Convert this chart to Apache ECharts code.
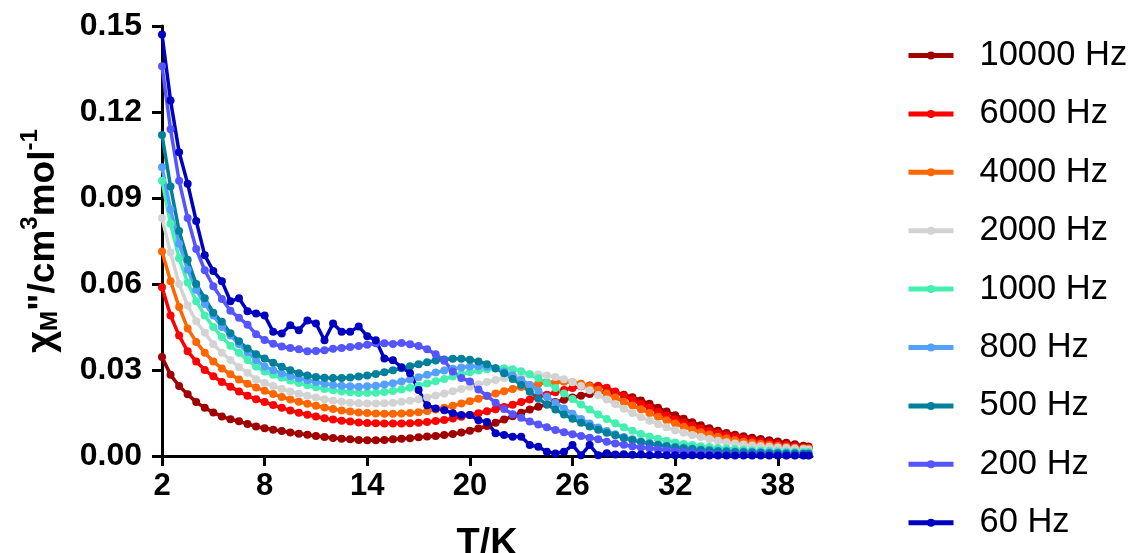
<!DOCTYPE html>
<html><head><meta charset="utf-8">
<script src="https://cdn.jsdelivr.net/npm/echarts@6/dist/echarts.min.js"></script>
<style>html,body{margin:0;padding:0;background:#fff}#c{width:1132px;height:553px}</style>
</head><body><div id="c"></div>
<script>
const temps = [2,2.5,3,3.5,4,4.5,5,5.5,6,6.5,7,7.5,8,8.5,9,9.5,10,10.5,11,11.5,12,12.5,13,13.5,14,14.5,15,15.5,16,16.5,17,17.5,18,18.5,19,19.5,20,20.5,21,21.5,22,22.5,23,23.5,24,24.5,25,25.5,26,26.5,27,27.5,28,28.5,29,29.5,30,30.5,31,31.5,32,32.5,33,33.5,34,34.5,35,35.5,36,36.5,37,37.5,38,38.5,39,39.5,39.8];

const seriesNames = ['10000 Hz','6000 Hz','4000 Hz','2000 Hz','1000 Hz','800 Hz','500 Hz','200 Hz','60 Hz'];
const seriesColors = ['#A00000','#FF0000','#FF6600','#D3D3D3','#44F0B0','#55A0FF','#00809A','#5555FF','#0000C0'];

const hz10000 = [0.0345,0.0283,0.0244,0.0215,0.0188,0.0168,0.0152,0.0138,0.0128,0.0121,
0.0112,0.0103,0.0097,0.0092,0.0087,0.0082,0.0078,0.0074,0.0070,0.0066,
0.0063,0.0060,0.0058,0.0056,0.0055,0.0055,0.0056,0.0058,0.0060,0.0062,
0.0065,0.0068,0.0070,0.0073,0.0077,0.0082,0.0088,0.0096,0.0105,0.0116,
0.0127,0.0139,0.0151,0.0162,0.0172,0.0180,0.0188,0.0196,0.0204,0.0210,
0.0216,0.0221,0.0223,0.0221,0.0214,0.0205,0.0194,0.0182,0.0168,0.0155,
0.0142,0.0130,0.0118,0.0107,0.0097,0.0088,0.0080,0.0074,0.0069,0.0064,
0.0059,0.0055,0.0051,0.0046,0.0041,0.0036,0.0033];

const hz6000 = [0.0589,0.0490,0.0420,0.0365,0.0330,0.0300,0.0278,0.0258,0.0242,0.0225,
0.0210,0.0198,0.0188,0.0178,0.0168,0.0159,0.0151,0.0144,0.0138,0.0132,
0.0127,0.0123,0.0120,0.0117,0.0115,0.0114,0.0113,0.0113,0.0113,0.0114,
0.0116,0.0119,0.0122,0.0126,0.0131,0.0137,0.0143,0.0149,0.0156,0.0163,
0.0171,0.0179,0.0188,0.0197,0.0206,0.0214,0.0222,0.0230,0.0237,0.0243,
0.0246,0.0245,0.0238,0.0225,0.0210,0.0196,0.0182,0.0168,0.0154,0.0140,
0.0128,0.0117,0.0106,0.0096,0.0087,0.0079,0.0072,0.0066,0.0060,0.0055,
0.0050,0.0046,0.0042,0.0038,0.0034,0.0030,0.0028];

const hz4000 = [0.0713,0.0610,0.0520,0.0445,0.0398,0.0360,0.0330,0.0305,0.0285,0.0267,
0.0252,0.0239,0.0228,0.0216,0.0206,0.0197,0.0189,0.0182,0.0175,0.0169,
0.0164,0.0159,0.0155,0.0152,0.0150,0.0148,0.0147,0.0147,0.0148,0.0150,
0.0153,0.0157,0.0162,0.0168,0.0175,0.0183,0.0191,0.0200,0.0209,0.0218,
0.0226,0.0234,0.0241,0.0247,0.0252,0.0256,0.0258,0.0259,0.0257,0.0252,
0.0243,0.0231,0.0218,0.0204,0.0189,0.0176,0.0163,0.0150,0.0137,0.0125,
0.0113,0.0102,0.0092,0.0083,0.0075,0.0067,0.0061,0.0055,0.0050,0.0046,
0.0042,0.0038,0.0035,0.0032,0.0029,0.0027,0.0026];

const hz2000 = [0.0830,0.0710,0.0600,0.0525,0.0470,0.0430,0.0390,0.0360,0.0335,0.0310,
0.0290,0.0268,0.0255,0.0244,0.0234,0.0225,0.0217,0.0210,0.0204,0.0198,
0.0193,0.0189,0.0186,0.0184,0.0183,0.0183,0.0184,0.0186,0.0189,0.0193,
0.0198,0.0204,0.0211,0.0218,0.0226,0.0234,0.0242,0.0250,0.0258,0.0265,
0.0271,0.0277,0.0281,0.0284,0.0284,0.0281,0.0276,0.0268,0.0257,0.0244,
0.0229,0.0213,0.0197,0.0181,0.0165,0.0150,0.0136,0.0123,0.0111,0.0100,
0.0090,0.0081,0.0073,0.0066,0.0059,0.0053,0.0048,0.0044,0.0040,0.0037,
0.0034,0.0032,0.0030,0.0028,0.0026,0.0024,0.0023];

const hz1000 = [0.0960,0.0810,0.0690,0.0605,0.0540,0.0490,0.0450,0.0415,0.0385,0.0360,
0.0335,0.0312,0.0295,0.0283,0.0273,0.0263,0.0255,0.0247,0.0240,0.0234,
0.0229,0.0225,0.0222,0.0220,0.0220,0.0221,0.0223,0.0227,0.0232,0.0238,
0.0245,0.0253,0.0261,0.0269,0.0277,0.0285,0.0292,0.0298,0.0303,0.0306,
0.0306,0.0303,0.0296,0.0285,0.0271,0.0255,0.0237,0.0218,0.0199,0.0180,
0.0162,0.0145,0.0129,0.0114,0.0100,0.0088,0.0077,0.0068,0.0060,0.0053,
0.0047,0.0042,0.0038,0.0034,0.0031,0.0028,0.0026,0.0024,0.0022,0.0020,
0.0019,0.0018,0.0017,0.0016,0.0015,0.0014,0.0014];

const hz800 = [0.1007,0.0860,0.0740,0.0650,0.0580,0.0530,0.0490,0.0450,0.0420,0.0390,
0.0362,0.0335,0.0312,0.0299,0.0288,0.0279,0.0271,0.0264,0.0258,0.0252,
0.0248,0.0245,0.0243,0.0242,0.0243,0.0245,0.0249,0.0254,0.0260,0.0267,
0.0275,0.0283,0.0291,0.0298,0.0304,0.0309,0.0312,0.0313,0.0311,0.0305,
0.0295,0.0282,0.0266,0.0248,0.0228,0.0207,0.0186,0.0166,0.0147,0.0129,
0.0113,0.0099,0.0087,0.0076,0.0066,0.0058,0.0051,0.0045,0.0040,0.0036,
0.0032,0.0029,0.0026,0.0023,0.0021,0.0019,0.0018,0.0017,0.0016,0.0015,
0.0014,0.0013,0.0012,0.0011,0.0011,0.0010,0.0010];

const hz500 = [0.1120,0.0940,0.0785,0.0685,0.0600,0.0550,0.0500,0.0468,0.0428,0.0400,
0.0375,0.0355,0.0340,0.0325,0.0311,0.0299,0.0289,0.0281,0.0276,0.0273,
0.0272,0.0272,0.0274,0.0277,0.0281,0.0286,0.0292,0.0299,0.0306,0.0313,
0.0320,0.0327,0.0333,0.0337,0.0339,0.0339,0.0336,0.0330,0.0320,0.0306,
0.0289,0.0269,0.0248,0.0224,0.0200,0.0180,0.0162,0.0145,0.0130,0.0116,
0.0103,0.0092,0.0081,0.0072,0.0063,0.0056,0.0049,0.0043,0.0038,0.0034,
0.0030,0.0027,0.0024,0.0021,0.0019,0.0017,0.0016,0.0014,0.0013,0.0012,
0.0011,0.0010,0.0010,0.0009,0.0009,0.0008,0.0008];

const hz200 = [0.1360,0.1140,0.0960,0.0830,0.0722,0.0648,0.0592,0.0548,0.0507,0.0482,
0.0458,0.0425,0.0405,0.0392,0.0382,0.0377,0.0372,0.0365,0.0366,0.0369,
0.0374,0.0377,0.0380,0.0384,0.0388,0.0393,0.0393,0.0391,0.0394,0.0390,
0.0384,0.0372,0.0355,0.0332,0.0295,0.0272,0.0260,0.0232,0.0210,0.0186,
0.0164,0.0146,0.0133,0.0120,0.0110,0.0100,0.0091,0.0083,0.0076,0.0070,
0.0064,0.0058,0.0050,0.0044,0.0039,0.0034,0.0030,0.0027,0.0023,0.0020,
0.0017,0.0015,0.0012,0.0010,0.0008,0.0006,0.0005,0.0005,0.0004,0.0004,
0.0004,0.0004,0.0003,0.0003,0.0003,0.0003,0.0003];

const hz60 = [0.1470,0.1240,0.1060,0.0950,0.0820,0.0700,0.0645,0.0610,0.0540,0.0550,
0.0505,0.0497,0.0490,0.0433,0.0427,0.0456,0.0439,0.0473,0.0462,0.0404,
0.0462,0.0433,0.0433,0.0452,0.0418,0.0404,0.0340,0.0334,0.0310,0.0289,
0.0230,0.0177,0.0166,0.0160,0.0149,0.0143,0.0143,0.0125,0.0119,0.0079,
0.0073,0.0067,0.0067,0.0038,0.0032,0.0015,0.0009,0.0015,0.0038,0.0003,
0.0038,0.0003,0.0010,0.0005,0.0006,0.0004,0.0005,0.0003,0.0004,0.0003,
0.0003,0.0002,0.0003,0.0002,0.0002,0.0002,0.0002,0.0002,0.0002,0.0002,
0.0002,0.0002,0.0002,0.0002,0.0002,0.0002,0.0002];

const seriesValues = [hz10000,hz6000,hz4000,hz2000,hz1000,hz800,hz500,hz200,hz60];
const xTickValues = [2,8,14,20,26,32,38];

const FONT = 'Liberation Sans, Arial, sans-serif';
const chart = echarts.init(document.getElementById('c'), null, {renderer:'canvas'});

const series = seriesNames.map((name, k) => ({
  name: name,
  type: 'line',
  data: temps.map((t, i) => [t, seriesValues[k][i]]),
  symbol: 'circle',
  symbolSize: 8,
  showSymbol: true,
  clip: false,
  lineStyle: {width: 3.5, color: seriesColors[k]},
  itemStyle: {color: seriesColors[k]},
  emphasis: {disabled: true},
  z: 2
}));

chart.setOption({
  animation: false,
  backgroundColor: '#fff',
  grid: {left: 162, right: 320, top: 26, bottom: 97, containLabel: false, outerBoundsMode: 'none'},
  legend: {
    orient: 'vertical', left: 901, top: 33,
    itemWidth: 45, itemHeight: 10, itemGap: 23.4,
    data: seriesNames,
    lineStyle: {width: 5},
    textStyle: {fontFamily: FONT, fontSize: 34.5, lineHeight: 34, color: '#000', padding: [0,0,0,21]}
  },
  xAxis: {
    type: 'value', min: 2, max: 40,
    name: 'T/K', nameLocation: 'middle', nameGap: 70,
    nameTextStyle: {fontFamily: FONT, fontSize: 38, fontWeight: 'bold', color: '#000'},
    axisLine: {show: true, onZero: false, lineStyle: {color: '#000', width: 3}},
    axisTick: {show: true, length: 10, lineStyle: {color: '#000', width: 3}, customValues: xTickValues},
    axisLabel: {fontFamily: FONT, fontSize: 31, fontWeight: 'bold', color: '#000', margin: 15, customValues: xTickValues},
    splitLine: {show: false}
  },
  yAxis: {
    type: 'value', min: 0, max: 0.15, interval: 0.03,
    name: '{a|χ}{b|M}{c|"/cm}{d|3}{c|mol}{d|-1}',
    nameLocation: 'middle', nameGap: 100, nameRotate: 90,
    nameTextStyle: {
      fontFamily: FONT, fontWeight: 'bold', color: '#000',
      rich: {
        a: {fontFamily: FONT, fontSize: 38, fontWeight: 'bold', color: '#000', verticalAlign: 'bottom', lineHeight: 44},
        b: {fontFamily: FONT, fontSize: 24, fontWeight: 'bold', color: '#000', verticalAlign: 'bottom', lineHeight: 38},
        c: {fontFamily: FONT, fontSize: 37, fontWeight: 'bold', color: '#000', verticalAlign: 'bottom', lineHeight: 44},
        d: {fontFamily: FONT, fontSize: 24, fontWeight: 'bold', color: '#000', verticalAlign: 'top', lineHeight: 44}
      }
    },
    axisLine: {show: true, lineStyle: {color: '#000', width: 3}},
    axisTick: {show: true, length: 10, lineStyle: {color: '#000', width: 3}},
    axisLabel: {fontFamily: FONT, fontSize: 32, fontWeight: 'bold', color: '#000', margin: 20,
      formatter: v => v.toFixed(2)},
    splitLine: {show: false}
  },
  series: series
});
</script></body></html>
